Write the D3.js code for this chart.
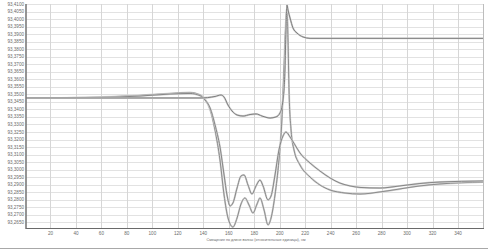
<!DOCTYPE html>
<html><head><meta charset="utf-8">
<script src="https://cdn.jsdelivr.net/npm/d3@7"></script>
<style>body{margin:0;background:#fff;}svg{display:block;font-family:"Liberation Sans",Arial,sans-serif;}</style>
</head><body>
<script>
// ---- data ----
const xTicks = [20,40,60,80,100,120,140,160,180,200,220,240,260,280,300,320,340];
const yTickTop = 93.41, yTickStep = 0.005, yTickCount = 30;
const xTitle = "Смещение по длине волны (относительные единицы), нм";
const seriesA = [[0,93.3476],[90.3,93.3476],[137.4,93.3476],[149.2,93.3486],[153.9,93.3496],[156.3,93.3482],[159.4,93.3429],[162.5,93.3390],[166.5,93.3363],[171.2,93.3356],[176.7,93.3366],[181.4,93.3370],[186.1,93.3356],[192.4,93.3343],[197.1,93.3350],[200.2,93.3376],[202.6,93.3463],[204.1,93.3662],[204.9,93.3927],[205.7,93.4093],[206.5,93.4060],[208.1,93.4007],[210.4,93.3941],[213.6,93.3907],[218.3,93.3881],[223.8,93.3872],[231.6,93.3872],[359.6,93.3872]];
const seriesB = [[0,93.3476],[27.5,93.3476],[58.9,93.3479],[90.3,93.3489],[113.9,93.3502],[129.6,93.3506],[137.4,93.3492],[141.3,93.3463],[145.3,93.3410],[149.2,93.3297],[153.1,93.3151],[156.3,93.2965],[158.6,93.2832],[161,93.2759],[163.3,93.2779],[166.5,93.2878],[169.6,93.2958],[172,93.2965],[175.1,93.2898],[178.2,93.2838],[181.4,93.2892],[184.5,93.2931],[186.9,93.2892],[190.8,93.2799],[193.2,93.2825],[196.3,93.2965],[199.4,93.3131],[202.6,93.3224],[204.9,93.3250],[208.1,93.3217],[212,93.3164],[215.9,93.3111],[223.8,93.3044],[231.6,93.2991],[239.5,93.2945],[247.3,93.2911],[255.2,93.2892],[263,93.2882],[278.7,93.2878],[294.4,93.2892],[310.1,93.2908],[325.8,93.2918],[359.6,93.2925]];
const seriesC = [[0,93.3476],[27.5,93.3476],[58.9,93.3482],[90.3,93.3493],[113.9,93.3506],[129.6,93.3512],[137.4,93.3496],[141.3,93.3469],[145.3,93.3400],[149.2,93.3263],[153.1,93.3064],[156.3,93.2832],[159.4,93.2679],[163.3,93.2619],[166.5,93.2679],[169.6,93.2772],[172.7,93.2812],[175.9,93.2765],[179,93.2712],[182.2,93.2772],[184.5,93.2812],[187.7,93.2732],[190.8,93.2633],[193.2,93.2679],[196.3,93.2832],[199.4,93.3064],[201.7,93.3330],[203.3,93.3662],[204.9,93.3994],[205.7,93.4073],[206.5,93.3861],[207.3,93.3529],[208.9,93.3263],[211.2,93.3131],[215.9,93.3031],[223.8,93.2951],[231.6,93.2898],[239.5,93.2865],[251.3,93.2845],[263,93.2838],[278.7,93.2852],[294.4,93.2872],[310.1,93.2892],[325.8,93.2905],[359.6,93.2918]];

// ---- layout ----
const W = 488, H = 252;
const L = 26, R = 483, T = 4, B = 228;
const svg = d3.select("body").append("svg").attr("width", W).attr("height", H);
const x = d3.scaleLinear().domain([0, 360]).range([25, 483.5]);
const pxPerUnit = 7.53 / yTickStep;
const y = d3.scaleLinear().domain([yTickTop - (B - T) / pxPerUnit, yTickTop]).range([B, T]);
const yTicks = d3.range(yTickCount).map(i => +(yTickTop - i * yTickStep).toFixed(4));

// gridlines
svg.append("g").selectAll("line").data(yTicks).join("line")
  .attr("x1", L).attr("x2", R).attr("y1", d => Math.round(y(d)) + 0.5).attr("y2", d => Math.round(y(d)) + 0.5)
  .attr("stroke", "#e2e2e2").attr("stroke-width", 1);
svg.append("g").selectAll("line").data(xTicks).join("line")
  .attr("x1", d => Math.round(x(d)) + 0.5).attr("x2", d => Math.round(x(d)) + 0.5).attr("y1", T).attr("y2", B)
  .attr("stroke", "#d6d6d6").attr("stroke-width", 1);
svg.append("line").attr("x1", R + 0.5).attr("x2", R + 0.5).attr("y1", T).attr("y2", B).attr("stroke", "#bdbdbd");

// y labels
const fmt = d3.format(".4f");
svg.append("g").selectAll("text").data(yTicks).join("text")
  .attr("x", 24).attr("y", d => y(d) + 1.5).attr("text-anchor", "end")
  .attr("font-size", 4.6).attr("fill", "#6a6a6a")
  .text(d => fmt(d).replace(".", ","));
// x labels
svg.append("g").selectAll("text").data(xTicks).join("text")
  .attr("x", d => x(d)).attr("y", 235).attr("text-anchor", "middle")
  .attr("font-size", 4.6).attr("fill", "#6a6a6a").text(d => d);
svg.append("text").attr("x", 256).attr("y", 240.5).attr("text-anchor", "middle")
  .attr("font-size", 3.7).attr("fill", "#6a6a6a").text(xTitle);

// curves
svg.append("clipPath").attr("id", "clip").append("rect").attr("x", L).attr("y", T - 1).attr("width", R - L).attr("height", B - T + 1);
const line = d3.line().x(d => x(d[0])).y(d => y(d[1])).curve(d3.curveMonotoneX);
const g = svg.append("g").attr("clip-path", "url(#clip)");
[[seriesC, "#8c8c8c"], [seriesB, "#878787"], [seriesA, "#7e7e7e"]].forEach(([s, c]) => {
  g.append("path").datum(s).attr("d", line).attr("fill", "none").attr("stroke", "#d2d2d2").attr("stroke-width", 1.9);
  g.append("path").datum(s).attr("d", line).attr("fill", "none").attr("stroke", c).attr("stroke-width", 1);
});

// axes lines
svg.append("line").attr("x1", L).attr("x2", L).attr("y1", T).attr("y2", B + 1).attr("stroke", "#7a7a7a").attr("stroke-width", 1.6);
svg.append("line").attr("x1", L).attr("x2", R + 1).attr("y1", B + 0.5).attr("y2", B + 0.5).attr("stroke", "#6a6a6a").attr("stroke-width", 1.2);
svg.append("line").attr("x1", 0).attr("x2", W).attr("y1", 248.5).attr("y2", 248.5).attr("stroke", "#a8a8a8").attr("stroke-width", 1);
</script>
</body></html>
